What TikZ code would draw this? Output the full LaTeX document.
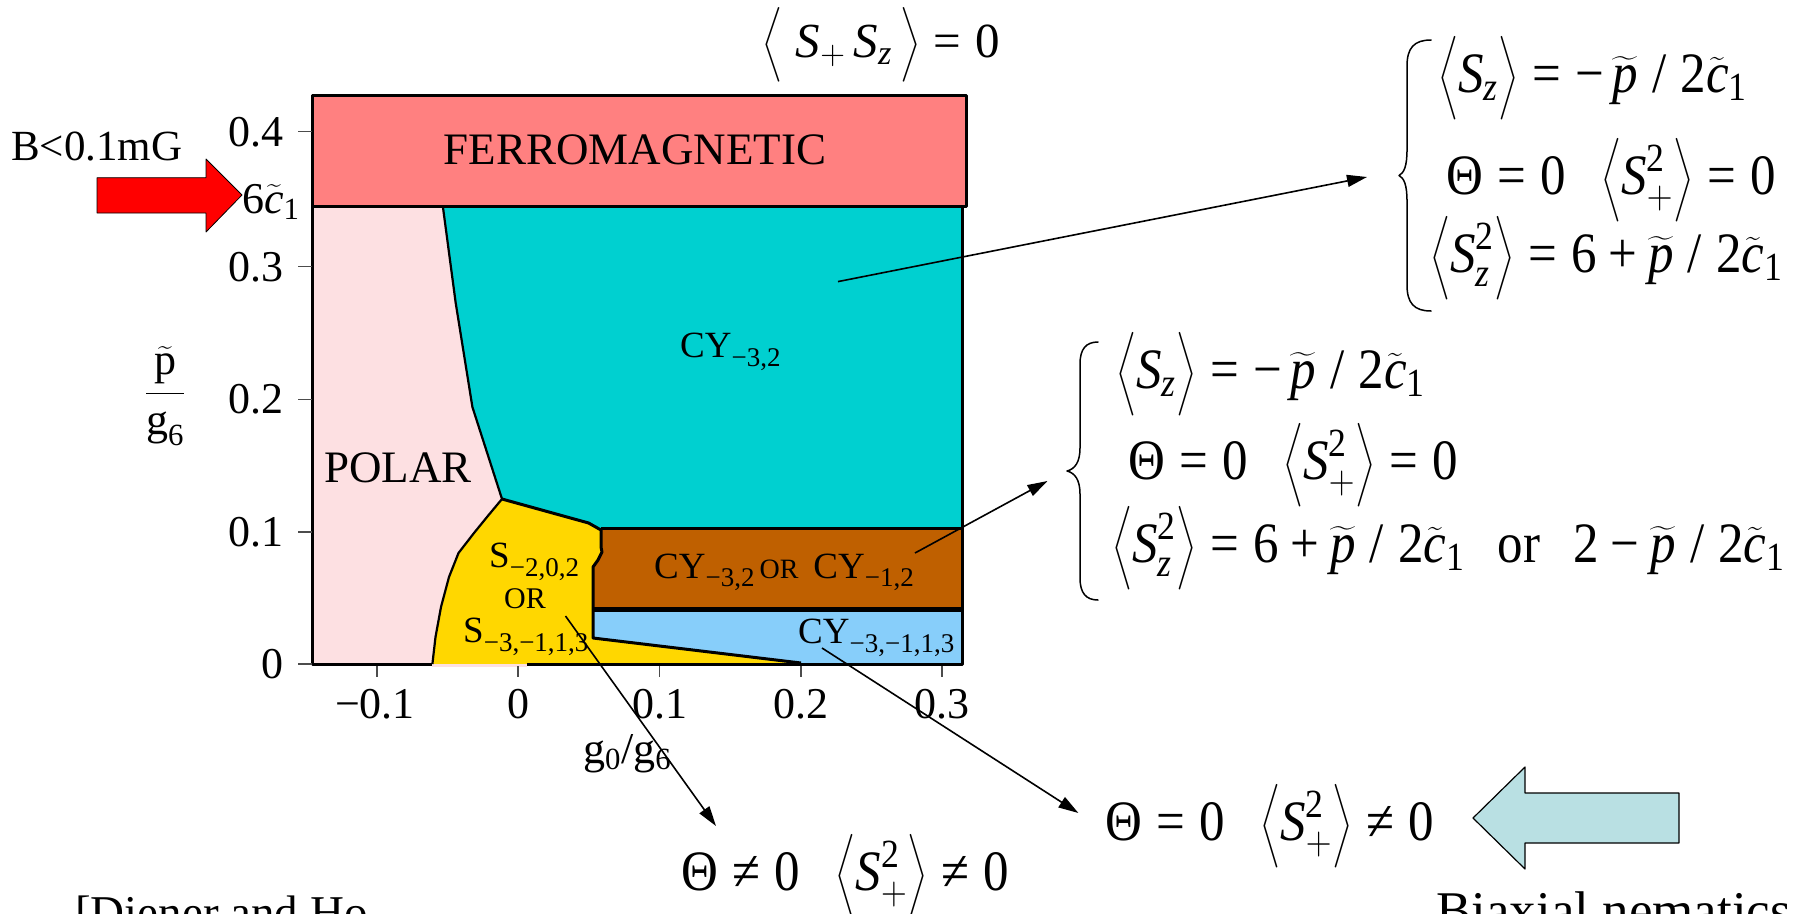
\RequirePackage{fix-cm}
\documentclass[tikz,border=0pt]{standalone}
\usepackage{amsmath}
\usepackage{graphicx}
\usepackage{fontspec}
\setmainfont{Liberation Serif}
\usetikzlibrary{arrows.meta}
\definecolor{ferro}{HTML}{FF8080}
\definecolor{polarc}{HTML}{FDE0E2}
\definecolor{cyanr}{HTML}{00D0D0}
\definecolor{yell}{HTML}{FFD700}
\definecolor{brownr}{HTML}{BF6000}
\definecolor{lblue}{HTML}{87CEFA}
\definecolor{arrblue}{HTML}{B9E0E3}
\newcommand\fs[1]{\fontsize{#1}{#1}\selectfont}
\newcommand\eqfs{\fs{51}}
\newcommand\eqs[1]{\scalebox{1}[1.12]{\eqfs$#1$}}
\newcommand\iS{\text{\itshape S}}
\newcommand\iz{\text{\itshape z}}
\newcommand\tp{\widetilde{\text{\itshape p}}}
\newcommand\tc{\widetilde{\text{\itshape c}}}
\newcommand\La{\bigg\langle}
\newcommand\Ra{\bigg\rangle}
\newcommand\Eq{\mathrel{\text{=}}}
\newcommand\Ne{\mathrel{\text{≠}}}
\newcommand\Pl{\mathbin{\text{+}}}
\newcommand\Mi{\mathbin{\text{−}}}
\newcommand\Um{\text{−}\,}
\newcommand\Sl{\;\text{/}\;}
\newcommand\Gp{\hspace{0.7em}}
\begin{document}
\begin{tikzpicture}[x=1pt,y=-1pt,line join=round,
  bd/.style={line width=3pt,black},
  bdthin/.style={line width=2.2pt,black},
  tickm/.style={line width=1.2pt,black!70},
  conn/.style={line width=1.6pt,-{Triangle[length=20pt,width=12pt]}},
  lab/.style={inner sep=0pt},
  brcl/.style={line width=1.5pt,line cap=round}]
\useasboundingbox (0,0) rectangle (1795,913);
% regions
\fill[polarc] (312,206) -- (442.8,206) -- (455.7,303) -- (472.4,407) -- (502,499) -- (487,517) -- (474,533) -- (458.5,553) -- (449,577) -- (441,607) -- (435.5,637) -- (432.4,664) -- (312,664) -- cycle;
\fill[cyanr] (442.8,206) -- (962,206) -- (962,528.5) -- (601,528.5) -- (588.6,523) -- (502,499) -- (472.4,407) -- (455.7,303) -- cycle;
\fill[yell] (502,499) -- (588.6,523) -- (601,530) -- (601,547) -- (602,552) -- (598,560) -- (593,567) -- (593,638) -- (801,663) -- (801,664) -- (432.4,664) -- (435.5,637) -- (441,607) -- (449,577) -- (458.5,553) -- (474,533) -- (487,517) -- cycle;
\fill[brownr] (601,528.5) -- (962,528.5) -- (962,608) -- (593,608) -- (593,567) -- (598,560) -- (602,552) -- (601,547) -- cycle;
\fill[lblue] (593,610.5) -- (962,610.5) -- (962,664) -- (801,663) -- (593,638) -- cycle;
\filldraw[fill=ferro,draw=black,line width=3pt] (312,95) rectangle (966,206);
% boundaries
\draw[bd] (312,206) -- (312,664) -- (432.4,664);
\draw[line width=3pt,polarc] (432.4,665.5) -- (527,665.5);
\draw[bd] (527,664) -- (962,664) -- (962,206);
\draw[bdthin] (442.8,206) -- (455.7,303) -- (472.4,407) -- (502,499) -- (487,517) -- (474,533) -- (458.5,553) -- (449,577) -- (441,607) -- (435.5,637) -- (432.4,664);
\draw[bd] (502,499) -- (588.6,523) -- (601,530) -- (601,547) -- (602,552) -- (598,560) -- (593,567) -- (593,638) -- (801,663);
\draw[bd] (601,528.5) -- (962,528.5);
\draw[bd] (593,608) -- (962,608);
\draw[bd] (593,610.5) -- (962,610.5);
% ticks
\foreach \yy in {131.6,266.7,399.5,532,664} \draw[tickm] (298,\yy) -- (312,\yy);
\foreach \xx in {377,518,659.5,801,942} \draw[tickm] (\xx,666) -- (\xx,677);
% tick labels
\node[lab,anchor=base east] (yt4) at (284,146) {\fs{44}0.4};
\node[lab,anchor=base east] (yt3) at (284,281) {\fs{44}0.3};
\node[lab,anchor=base east] (yt2) at (284,413) {\fs{44}0.2};
\node[lab,anchor=base east] (yt1) at (284,546) {\fs{44}0.1};
\node[lab,anchor=base east] (yt0) at (284,678) {\fs{44}0};
\node[lab,anchor=base] (xtm1) at (375,718) {\fs{44}−0.1};
\node[lab,anchor=base] (xt0) at (518,718) {\fs{44}0};
\node[lab,anchor=base] (xt1) at (659.5,718) {\fs{44}0.1};
\node[lab,anchor=base] (xt2) at (801,718) {\fs{44}0.2};
\node[lab,anchor=base] (xt3) at (942,718) {\fs{44}0.3};
% axis labels
\node[lab] (ylab) at (165,396) {\fs{44}$\dfrac{\widetilde{\text{p}}}{\text{g}_{\text{6}}}$};
\node[lab,anchor=base west] (xlab) at (583,763) {\fs{44}g$_{\text{0}}$/g$_{\text{6}}$};
% region labels
\node[lab] (ferrolab) at (635,150) {\fs{45}FERROMAGNETIC};
\node[lab] (polarlab) at (398,468) {\fs{45}POLAR};
\node[lab,anchor=base west] (cy32) at (680,357) {\fs{37}CY\raisebox{-9pt}{\fs{27}−3,2}};
\node[lab,anchor=base west] (s202) at (489,567) {\fs{37}S\raisebox{-9pt}{\fs{27}−2,0,2}};
\node[lab] (sor) at (525,599) {\fs{30}OR};
\node[lab,anchor=base west] (s3113) at (463,642) {\fs{37}S\raisebox{-9pt}{\fs{27}−3,−1,1,3}};
\node[lab,anchor=base west] (cyor) at (654,578) {\fs{37}CY\raisebox{-8pt}{\fs{27}−3,2}\hspace{5pt}{\fs{28}OR}\hspace{15pt}CY\raisebox{-8pt}{\fs{27}−1,2}};
\node[lab,anchor=base west] (cy3113) at (798,643) {\fs{37}CY\raisebox{-9pt}{\fs{27}−3,−1,1,3}};
% left labels and arrow
\node[lab,anchor=base west] (blab) at (11,160) {\fs{43}B<0.1mG};
\filldraw[fill=red,draw=black,line width=0.8pt] (97,177.7) -- (206,177.7) -- (206,159) -- (242,195) -- (206,232) -- (206,213) -- (97,213) -- cycle;
\node[lab,anchor=base west] (clab) at (242,213) {\fs{44}6$\tc_{\text{1}}$};
% equations
\node[lab,anchor=base west] (topeq) at (762,57) {\fs{49}$\Big\langle\;\iS_{+}\,\iS_{\iz}\,\Big\rangle \Eq \text{0}$};
\draw[brcl] (1431,40) .. controls (1414,40) and (1407,48) .. (1407,66) -- (1407,150) .. controls (1407,166) and (1404,173) .. (1399,175.5) .. controls (1404,178) and (1407,185) .. (1407,201) -- (1407,285) .. controls (1407,303) and (1414,311) .. (1431,311);
\node[lab,anchor=base west] (b1l1) at (1438,92) {\eqs{\La \iS_{\iz} \Ra \Eq \Um\tp\Sl\text{2}\tc_{\text{1}}}};
\node[lab,anchor=base west] (b1l2) at (1446,194) {\eqs{\text{Θ} \Eq \text{0}\Gp \La \iS^{\text{2}}_{+} \Ra \Eq \text{0}}};
\node[lab,anchor=base west] (b1l3) at (1430,272) {\eqs{\La \iS^{\text{2}}_{\iz} \Ra \Eq \text{6} \Pl \tp\Sl\text{2}\tc_{\text{1}}}};
\draw[brcl] (1098,342) .. controls (1086,342) and (1080,349) .. (1080,364) -- (1080,448) .. controls (1080,462) and (1075,469) .. (1067,471) .. controls (1075,473) and (1080,480) .. (1080,494) -- (1080,578) .. controls (1080,593) and (1086,600) .. (1098,600);
\node[lab,anchor=base west] (b2l1) at (1116,388) {\eqs{\La \iS_{\iz} \Ra \Eq \Um\tp\Sl\text{2}\tc_{\text{1}}}};
\node[lab,anchor=base west] (b2l2) at (1128,479) {\eqs{\text{Θ} \Eq \text{0}\Gp \La \iS^{\text{2}}_{+} \Ra \Eq \text{0}}};
\node[lab,anchor=base west] (b2l3) at (1112,562) {\eqs{\La \iS^{\text{2}}_{\iz} \Ra \Eq \text{6} \Pl \tp\Sl\text{2}\tc_{\text{1}}\hspace{0.65em}\text{or}\hspace{0.65em}\text{2} \Mi \tp\Sl\text{2}\tc_{\text{1}}}};
\node[lab,anchor=base west] (eqA) at (1105,840) {\eqs{\text{Θ} \Eq \text{0}\Gp \La \iS^{\text{2}}_{+} \Ra \Ne \text{0}}};
\node[lab,anchor=base west] (eqB) at (681,890) {\eqs{\text{Θ} \Ne \text{0}\Gp \La \iS^{\text{2}}_{+} \Ra \Ne \text{0}}};
% blue arrow
\filldraw[fill=arrblue,draw=black,line width=1.2pt] (1679,793) -- (1525,793) -- (1525,767) -- (1473,818) -- (1525,869) -- (1525,843) -- (1679,843) -- cycle;
% bottom texts
\node[lab,anchor=base west] (refl) at (75,928) {\fs{47}[Diener and Ho};
\node[lab,anchor=base west] (biax) at (1436,928) {\fs{53}Biaxial nematics};
% connectors
\coordinate (a1s) at (838,281.6);
\coordinate (a1e) at (1367,177);
\coordinate (a2s) at (915,553);
\coordinate (a2e) at (1047.5,481);
\coordinate (a3s) at (565.5,616);
\coordinate (a3e) at (716,826);
\coordinate (a4s) at (822,648);
\coordinate (a4e) at (1078.4,813);
\draw[conn] (a1s) -- (a1e);
\draw[conn] (a2s) -- (a2e);
\draw[conn] (a3s) -- (a3e);
\draw[conn] (a4s) -- (a4e);
\end{tikzpicture}
\end{document}
